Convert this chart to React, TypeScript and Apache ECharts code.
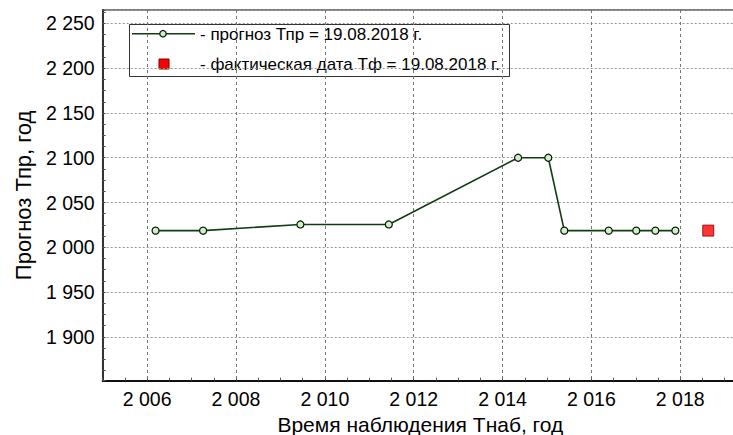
import React, { useEffect, useRef } from "react";
import * as echarts from "echarts";

const forecastYears = [2006.19, 2007.26, 2009.45, 2011.44, 2014.35, 2015.03, 2015.39, 2016.39, 2017.01, 2017.44, 2017.89];
const forecastValues = [2018.6, 2018.6, 2025.5, 2025.5, 2100, 2100, 2018.6, 2018.6, 2018.6, 2018.6, 2018.6];
const factYear = [2018.63];
const factValue = [2018.63];

const forecastLabel = "- прогноз Тпр = 19.08.2018 г.";
const factLabel = "- фактическая дата Тф = 19.08.2018 г.";
const xTitle = "Время наблюдения Тнаб, год";
const yTitle = "Прогноз Тпр, год";

const FONT = "'Liberation Sans', Arial, sans-serif";

const fmt = (v: number) => String(Math.round(v)).replace(/\B(?=(\d{3})+(?!\d))/g, " ");

export default function App() {
  const ref = useRef<HTMLDivElement>(null);
  useEffect(() => {
    if (!ref.current) return;
    const chart = echarts.init(ref.current, undefined, { renderer: "svg" });
    const lineData = forecastYears.map((x, i) => [x, forecastValues[i]]);
    const factData = factYear.map((x, i) => [x, factValue[i]]);
    chart.setOption({
      animation: false,
      backgroundColor: "#fff",
      textStyle: { fontFamily: FONT },
      grid: {
        left: 102.7,
        top: 10,
        right: -5,
        bottom: 54.3,
        outerBoundsMode: "none",
        containLabel: false,
        show: true,
        borderColor: "#555",
        borderWidth: 1.5,
        backgroundColor: "transparent",
      },
      xAxis: {
        type: "value",
        min: 2005,
        max: 2019.3,
        minInterval: 2,
        maxInterval: 2,
        splitNumber: 7,
        name: xTitle,
        nameLocation: "middle",
        nameGap: 28,
        nameTextStyle: { fontSize: 21, lineHeight: 22, color: "#000", fontFamily: FONT },
        axisLine: { show: true, lineStyle: { color: "#111", width: 2 } },
        axisTick: { show: true, inside: true, length: 3, lineStyle: { color: "#555" } },
        minorTick: { show: true, splitNumber: 4, length: 3, lineStyle: { color: "#555" } },
        axisLabel: {
          show: true,
          fontSize: 19.5,
          color: "#000",
          fontFamily: FONT,
          margin: 8,
          showMinLabel: false,
          showMaxLabel: false,
          formatter: (v: number) => (Math.abs(v - Math.round(v)) < 1e-6 && Math.round(v) % 2 === 0 ? fmt(v) : ""),
        },
        splitLine: { show: true, lineStyle: { color: "#777", type: [3, 3], width: 1 } },
      },
      yAxis: {
        type: "value",
        min: 1851,
        max: 2265,
        minInterval: 50,
        maxInterval: 50,
        splitNumber: 8,
        name: yTitle,
        nameLocation: "middle",
        nameRotate: 90,
        nameGap: 68,
        nameTextStyle: { fontSize: 22, color: "#000", fontFamily: FONT },
        axisLine: { show: true, lineStyle: { color: "#333", width: 2 } },
        axisTick: { show: true, inside: true, length: 3, lineStyle: { color: "#555" } },
        minorTick: { show: true, splitNumber: 4, length: 3, lineStyle: { color: "#555" } },
        axisLabel: {
          show: true,
          fontSize: 19.5,
          color: "#000",
          fontFamily: FONT,
          margin: 8,
          showMinLabel: false,
          showMaxLabel: false,
          formatter: (v: number) => (Math.abs(v - Math.round(v)) < 1e-6 && Math.round(v) % 50 === 0 ? fmt(v) : ""),
        },
        splitLine: { show: true, lineStyle: { color: "#999", type: [2, 2], width: 1 } },
      },
      series: [
        {
          type: "line",
          name: forecastLabel,
          data: lineData,
          symbol: "circle",
          symbolSize: 7,
          showAllSymbol: true,
          lineStyle: { color: "#113d11", width: 1.6 },
          itemStyle: { color: "#c8f5c0", borderColor: "#111", borderWidth: 1.2 },
          z: 3,
        },
        {
          type: "scatter",
          name: factLabel,
          data: factData,
          symbol: "rect",
          symbolSize: 11,
          itemStyle: { color: "#ff0000", borderColor: "#7a0000", borderWidth: 1 },
          z: 4,
        },
      ],
      graphic: [
        {
          type: "group",
          z: 100,
          children: [
            {
              type: "rect",
              shape: { x: 129.5, y: 24.5, width: 380, height: 52 },
              style: { fill: "#fff", stroke: "#333", lineWidth: 1 },
            },
            {
              type: "line",
              shape: { x1: 132, y1: 33.7, x2: 195, y2: 33.7 },
              style: { stroke: "#113d11", lineWidth: 1.6 },
            },
            {
              type: "circle",
              shape: { cx: 163, cy: 33.7, r: 3.2 },
              style: { fill: "#c8f5c0", stroke: "#111", lineWidth: 1.2 },
            },
            {
              type: "text",
              x: 200,
              y: 34,
              style: { text: forecastLabel, font: `17px ${FONT}`, fill: "#000", verticalAlign: "middle" },
            },
            {
              type: "rect",
              shape: { x: 159, y: 59, width: 10, height: 10 },
              style: { fill: "#ff0000", stroke: "#7a0000", lineWidth: 1 },
            },
            {
              type: "text",
              x: 200,
              y: 64,
              style: { text: factLabel, font: `17px ${FONT}`, fill: "#000", verticalAlign: "middle" },
            },
          ],
        },
      ],
    });
    return () => chart.dispose();
  }, []);
  return <div ref={ref} style={{ position: "absolute", left: 0, top: 0, width: 733, height: 435 }} />;
}
